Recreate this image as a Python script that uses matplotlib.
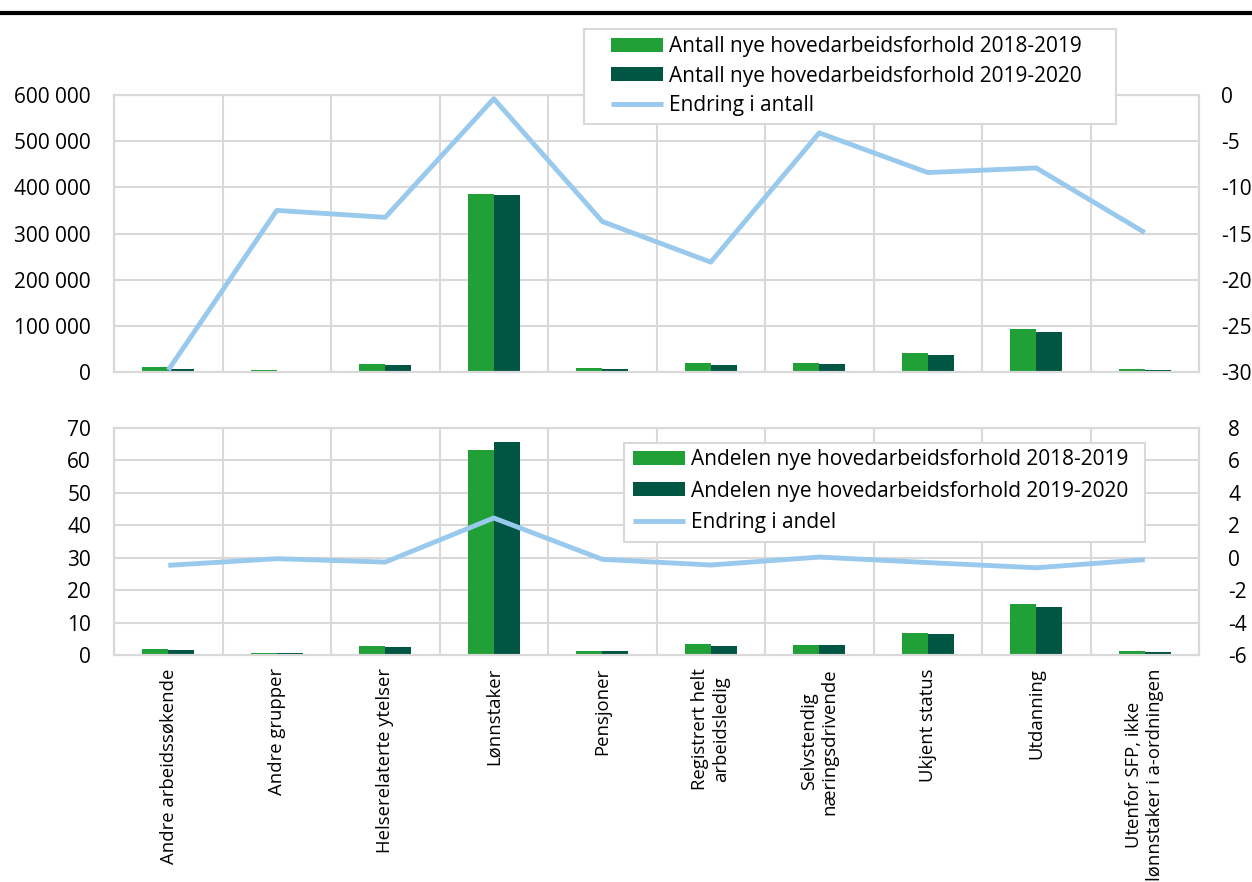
import matplotlib
matplotlib.use('Agg')
import matplotlib.pyplot as plt
import matplotlib.ticker as mticker
from matplotlib.lines import Line2D
from matplotlib.patches import Rectangle
import numpy as np

plt.rcParams['font.family'] = ['Open Sans', 'DejaVu Sans']
plt.rcParams['font.size'] = 15
plt.rcParams['axes.unicode_minus'] = False

categories = [
    "Andre arbeidssøkende",
    "Andre grupper",
    "Helserelaterte ytelser",
    "Lønnstaker",
    "Pensjoner",
    "Registrert helt\narbeidsledig",
    "Selvstendig\nnæringsdrivende",
    "Ukjent status",
    "Utdanning",
    "Utenfor SFP, ikke\nlønnstaker i a-ordningen",
]

# top panel: counts and change in count (right axis)
antall_1819 = [11000, 3500, 17000, 385000, 8000, 19500, 18800, 40500, 93700, 6500]
antall_1920 = [7500, 2500, 14500, 384000, 6500, 16000, 17500, 37000, 86500, 5000]
endring_antall = [-29.8, -12.5, -13.25, -0.4, -13.7, -18.1, -4.1, -8.4, -7.9, -14.9]

# bottom panel: shares and change in share (right axis)
andel_1819 = [1.85, 0.6, 2.8, 63.3, 1.3, 3.3, 3.1, 6.8, 15.6, 1.1]
andel_1920 = [1.45, 0.5, 2.6, 65.8, 1.1, 2.8, 3.1, 6.5, 14.8, 1.0]
endring_andel = [-0.47, -0.06, -0.27, 2.45, -0.1, -0.45, 0.04, -0.3, -0.62, -0.12]

GREEN = '#21A038'
DARK = '#005643'
BLUE = '#99C9EC'
GRID = '#D9D9D9'

W, H = 1252, 882
fig = plt.figure(figsize=(W / 100, H / 100), dpi=100)


def frac_box(x0, y0, x1, y1):
    return [x0 / W, 1 - y1 / H, (x1 - x0) / W, (y1 - y0) / H]


ax1 = fig.add_axes(frac_box(114, 95, 1199, 372))
ax2 = fig.add_axes(frac_box(114, 428, 1199, 655))

x = np.arange(len(categories))
bw = 0.24


def style(ax, axr, rpad):
    for a in (ax, axr):
        for s in a.spines.values():
            s.set_color(GRID)
            s.set_linewidth(1.5)
        a.tick_params(length=0)
    ax.set_xlim(-0.5, len(categories) - 0.5)
    ax.xaxis.set_minor_locator(mticker.FixedLocator(np.arange(-0.5, len(categories), 1.0)))
    ax.grid(axis='y', which='major', color=GRID, linewidth=1.5)
    ax.grid(axis='x', which='minor', color=GRID, linewidth=1.5)
    ax.tick_params(which='minor', length=0)
    ax.set_axisbelow(True)
    ax.tick_params(axis='y', pad=16.5)
    axr.tick_params(axis='y', pad=rpad)


def legend(handles, labels, anchor, box, spacing):
    x0, y0, x1, y1 = box
    fig.add_artist(Rectangle((x0 / W, 1 - y1 / H), (x1 - x0) / W, (y1 - y0) / H,
                             transform=fig.transFigure, facecolor='white',
                             edgecolor=GRID, linewidth=1.5, zorder=4))
    leg = fig.legend(handles, labels, loc='center left',
                     bbox_to_anchor=(anchor[0] / W, 1 - anchor[1] / H),
                     frameon=False, handlelength=2.5, handleheight=0.65,
                     handletextpad=0.27, labelspacing=spacing, borderpad=0,
                     borderaxespad=0, fontsize=15)
    leg.set_zorder(6)


# --- top panel ---
ax1r = ax1.twinx()
b1 = ax1.bar(x - bw / 2, antall_1819, bw, color=GREEN)
b2 = ax1.bar(x + bw / 2, antall_1920, bw, color=DARK)
l1, = ax1r.plot(x, endring_antall, color=BLUE, linewidth=3.5, solid_capstyle='butt')
ax1.set_ylim(0, 600000)
ax1.yaxis.set_major_locator(mticker.MultipleLocator(100000))
ax1.yaxis.set_major_formatter(mticker.FuncFormatter(lambda v, p: f"{int(v):,}".replace(",", " ")))
ax1r.set_ylim(-30, 0)
ax1r.yaxis.set_major_locator(mticker.MultipleLocator(5))
style(ax1, ax1r, 16)
ax1.set_xticks(x)
ax1.set_xticklabels([])
legend([b1, b2, l1],
       ["Antall nye hovedarbeidsforhold 2018-2019",
        "Antall nye hovedarbeidsforhold 2019-2020",
        "Endring i antall"], (611, 76), (584, 29, 1116, 124), 0.4)

# --- bottom panel ---
ax2r = ax2.twinx()
c1 = ax2.bar(x - bw / 2, andel_1819, bw, color=GREEN)
c2 = ax2.bar(x + bw / 2, andel_1920, bw, color=DARK)
l2, = ax2r.plot(x, endring_andel, color=BLUE, linewidth=3.5, solid_capstyle='butt')
ax2.set_ylim(0, 70)
ax2.yaxis.set_major_locator(mticker.MultipleLocator(10))
ax2r.set_ylim(-6, 8)
ax2r.yaxis.set_major_locator(mticker.MultipleLocator(2))
style(ax2, ax2r, 21)
ax2.set_xticks(x)
ax2.set_xticklabels(categories, rotation=90, ha='center', va='top',
                    multialignment='center', fontsize=13.3)
ax2.tick_params(axis='x', pad=9.5)
legend([c1, c2, l2],
       ["Andelen nye hovedarbeidsforhold 2018-2019",
        "Andelen nye hovedarbeidsforhold 2019-2020",
        "Endring i andel"], (633, 491), (624, 443, 1145, 542), 0.5)

# rule line under the (cropped) title
fig.add_artist(Line2D([0, 1], [1 - 13 / H, 1 - 13 / H], transform=fig.transFigure,
                      color='black', linewidth=3))

fig.savefig('out.png', dpi=100)
